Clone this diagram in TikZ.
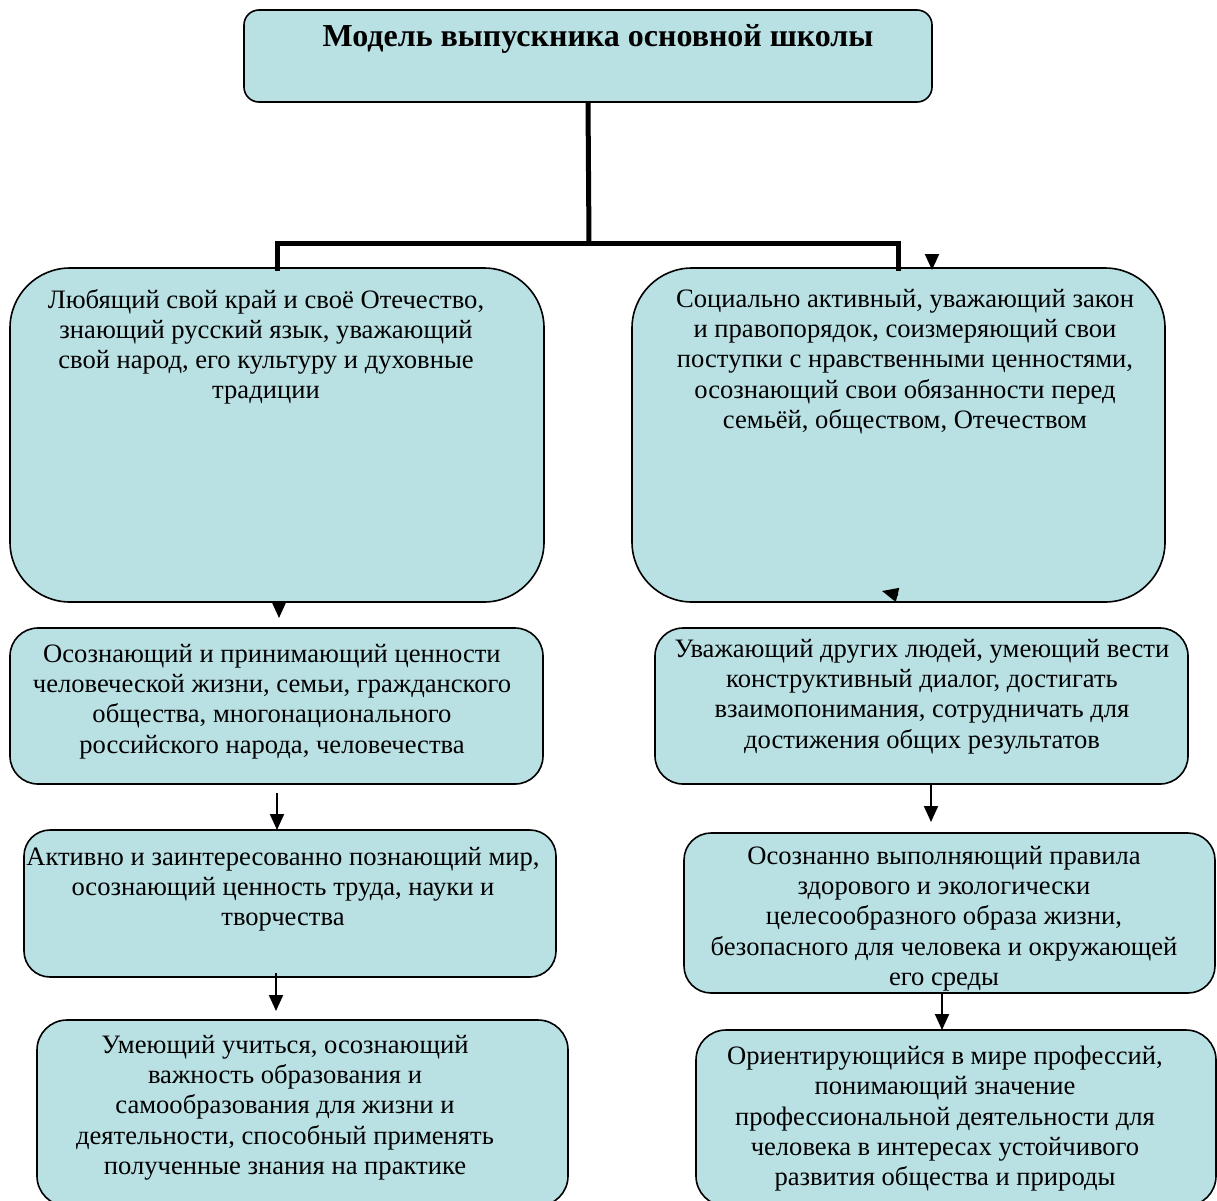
\documentclass[tikz,border=0pt]{standalone}
\usepackage{fontspec}
\setmainfont{Liberation Serif}
\usetikzlibrary{arrows.meta}
\definecolor{boxfill}{RGB}{185,224,227}
\tikzset{
  box/.style={draw=black, line width=1.6pt, fill=boxfill, rectangle, inner sep=0pt, outer sep=0pt},
  txt/.style={align=center, inner sep=0pt, anchor=north, font=\fontsize{26.6}{30.2}\selectfont},
  bus/.style={line width=5pt},
  arr/.style={line width=2pt, -{Triangle[length=16pt,width=14pt]}},
}
\begin{document}
\begin{tikzpicture}[x=1pt,y=-1pt]
\clip (0,0) rectangle (1217,1200);
\fill[white] (0,0) rectangle (1217,1200);
% boxes
\node[box, rounded corners=15pt, minimum width=688pt, minimum height=92pt] (top) at (588,56) {};
\node[box, rounded corners=60pt, minimum width=534pt, minimum height=334pt] (L1) at (277,435) {};
\node[box, rounded corners=60pt, minimum width=533pt, minimum height=334pt] (R1) at (898.5,435) {};
\node[box, rounded corners=28pt, minimum width=533pt, minimum height=156pt] (L2) at (276.5,706) {};
\node[box, rounded corners=28pt, minimum width=533pt, minimum height=156pt] (R2) at (921.5,706) {};
\node[box, rounded corners=26pt, minimum width=532pt, minimum height=147pt] (L3) at (290,903.5) {};
\node[box, rounded corners=27pt, minimum width=531pt, minimum height=160pt] (R3) at (949.5,913) {};
\node[box, rounded corners=30pt, minimum width=531pt, minimum height=186pt] (L4) at (302.5,1113) {};
\node[box, rounded corners=30pt, minimum width=520pt, minimum height=176pt] (R4) at (956,1118) {};
% texts
\node[anchor=north, inner sep=0pt, font=\fontsize{32}{36}\selectfont\bfseries] (tT) at (598,24) {Модель выпускника основной школы};
\node[txt] (tL1) at (266,289) {Любящий свой край и своё Отечество,\\знающий русский язык, уважающий\\свой народ, его культуру и духовные\\традиции};
\node[txt] (tR1) at (905,289) {Социально активный, уважающий закон\\и правопорядок, соизмеряющий свои\\поступки с нравственными ценностями,\\осознающий свои обязанности перед\\семьёй, обществом, Отечеством};
\node[txt] (tL2) at (272,644) {Осознающий и принимающий ценности\\человеческой жизни, семьи, гражданского\\общества, многонационального\\российского народа, человечества};
\node[txt] (tR2) at (922,639) {Уважающий других людей, умеющий вести\\конструктивный диалог, достигать\\взаимопонимания, сотрудничать для\\достижения общих результатов};
\node[txt] (tL3) at (283,847) {Активно и заинтересованно познающий мир,\\осознающий ценность труда, науки и\\творчества};
\node[txt] (tR3) at (944,846) {Осознанно выполняющий правила\\здорового и экологически\\целесообразного образа жизни,\\безопасного для человека и окружающей\\его среды};
\node[txt] (tL4) at (285,1035) {Умеющий учиться, осознающий\\важность образования и\\самообразования для жизни и\\деятельности, способный применять\\полученные знания на практике};
\node[txt] (tR4) at (945,1046) {Ориентирующийся в мире профессий,\\понимающий значение\\профессиональной деятельности для\\человека в интересах устойчивого\\развития общества и природы};
% bus connector
\coordinate (busmid) at (589,243);
\draw[bus] (top.south) -- (busmid);
\draw[bus, line cap=rect] (busmid) -| (L1.north);
\draw[bus, line cap=rect] (busmid) -| (R1.north);
% arrows
\coordinate (a1s) at (932,254);
\coordinate (a1e) at (932,270);
\draw[arr] (a1s) -- (a1e);
\coordinate (a2s) at (279,601);
\coordinate (a2e) at (279,618);
\draw[arr] (a2s) -- (a2e);
\coordinate (a3s) at (898,595);
\coordinate (a3e) at (882,591);
\draw[arr] (a3s) -- (a3e);
\coordinate (a4s) at (277,793);
\draw[arr] (a4s) -- (a4s |- L3.north);
\coordinate (a5s) at (931,784);
\coordinate (a5e) at (931,822);
\draw[arr] (a5s) -- (a5e);
\coordinate (a6s) at (276,973);
\coordinate (a6e) at (276,1011);
\draw[arr] (a6s) -- (a6e);
\coordinate (a7s) at (942,992);
\coordinate (a7e) at (942,1030);
\draw[arr] (a7s) -- (a7e);
\end{tikzpicture}
\end{document}
